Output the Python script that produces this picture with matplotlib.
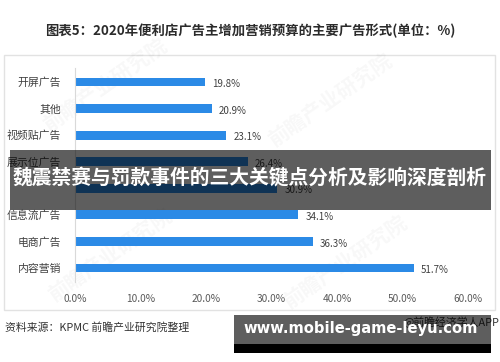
import matplotlib
matplotlib.use("Agg")
import matplotlib.pyplot as plt
from matplotlib.patches import Rectangle

plt.rcParams['font.family'] = ['Noto Sans CJK SC', 'DejaVu Sans']

categories = ["开屏广告", "其他", "视频贴广告", "展示位广告", "", "信息流广告", "电商广告", "内容营销"]
values = [19.8, 20.9, 23.1, 26.4, 30.9, 34.1, 36.3, 51.7]
xticks = [0, 10, 20, 30, 40, 50, 60]
xtick_labels = ["0.0%", "10.0%", "20.0%", "30.0%", "40.0%", "50.0%", "60.0%"]
title = "图表5：2020年便利店广告主增加营销预算的主要广告形式(单位：%)"
banner = "魏震禁赛与罚款事件的三大关键点分析及影响深度剖析"
source = "资料来源：KPMC 前瞻产业研究院整理"
credit = "@前瞻经济学人APP"
site = "www.mobile-game-leyu.com"

W, H = 500, 362
fig = plt.figure(figsize=(W / 100, H / 100), dpi=100)
fig.patch.set_facecolor("white")

def px(x, y):
    return x / W, 1 - y / H

# chart frame
fig.patches.append(Rectangle(px(4, 310), 491 / W, 255 / H, transform=fig.transFigure,
                             facecolor="none", edgecolor="#e2e2e2", linewidth=1, zorder=0))

ax = fig.add_axes([75 / W, 1 - 282 / H, (468 - 75) / W, (282 - 68) / H])
ax.set_facecolor("none")
ax.set_zorder(2)
ypos = list(range(len(categories)))
ax.barh(ypos, values, height=0.33, color="#2b8ae6", zorder=2)
ax.set_xlim(0, 60)
ax.set_ylim(len(categories) - 0.47, -0.53)
ax.set_yticks(ypos)
ax.set_yticklabels(categories, fontsize=7.8, color="#404040")
ax.set_xticks(xticks)
ax.set_xticklabels(xtick_labels, fontsize=7.3, color="#595959")
ax.tick_params(length=0, pad=9)
ax.tick_params(axis='y', pad=10)
for s in ["top", "right", "bottom"]:
    ax.spines[s].set_visible(False)
ax.spines["left"].set_color("#d9d9d9")
ax.spines["left"].set_linewidth(0.8)
for y, v in zip(ypos, values):
    ax.text(v + 1.1, y + 0.08, f"{v:.1f}%", fontsize=7, color="#404040", va="center", ha="left")

# watermarks
for (x, y) in [(105, 85), (330, 100), (110, 255), (345, 262)]:
    fx, fy = px(x, y)
    fig.text(fx, fy, "前瞻产业研究院", fontsize=15, color="#000000", alpha=0.03,
             rotation=35, ha="center", va="center", fontweight="bold", zorder=1)

# title
tx, ty = px(250, 31)
fig.text(tx, ty, title, fontsize=9.6, fontweight="bold", color="#2b2b2b", ha="center", va="center")

# source and credit
sx, sy = px(5, 327)
fig.text(sx, sy, source, fontsize=7.8, color="#333333", ha="left", va="center")
cx, cy = px(499, 322)
fig.text(cx, cy, credit, fontsize=7.8, color="#333333", ha="right", va="center")

# middle banner
fig.add_artist(Rectangle(px(10, 210), 481 / W, 60 / H, transform=fig.transFigure,
                         facecolor="black", alpha=0.63, edgecolor="none", zorder=5))
bx, by = px(250, 178)
fig.text(bx, by, banner, fontsize=14.2, fontweight="bold", color="white", ha="center", va="center", zorder=6)

# bottom banner
fig.add_artist(Rectangle(px(234, 353), 257 / W, 38 / H, transform=fig.transFigure,
                         facecolor="black", alpha=0.63, edgecolor="none", zorder=5))
fig.add_artist(Rectangle(px(234, 353), 257 / W, 9 / H, transform=fig.transFigure,
                         facecolor="black", edgecolor="none", zorder=5))
wx, wy = px(361, 329)
fig.text(wx, wy, site, fontsize=10.6, fontweight="bold", color="white", ha="center", va="center",
         family="DejaVu Sans", zorder=6)

fig.savefig("out.png", dpi=100)
